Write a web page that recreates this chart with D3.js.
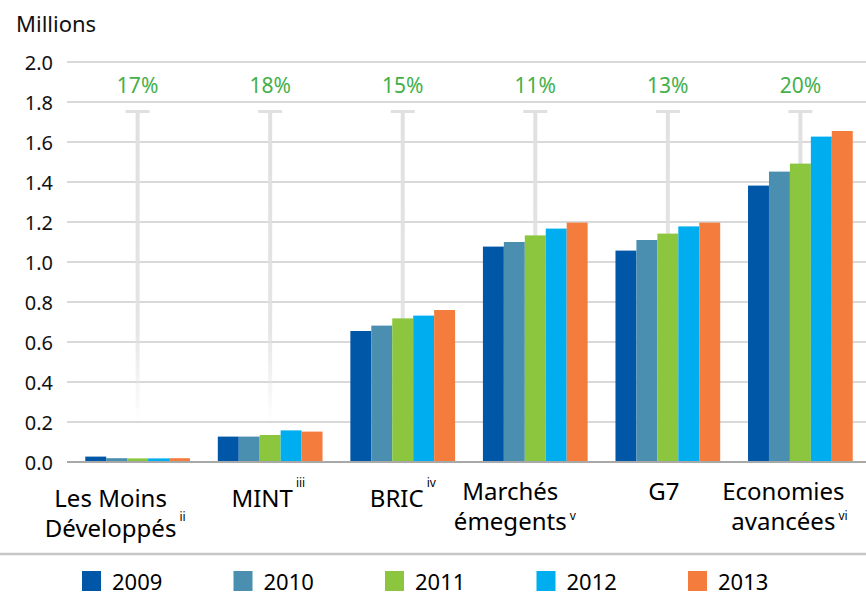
<!DOCTYPE html>
<html>
<head>
<meta charset="utf-8">
<script src="https://cdn.jsdelivr.net/npm/d3@7"></script>
<style>
body { margin: 0; background: #fff; }
text { font-family: "Noto Sans", sans-serif; }
</style>
</head>
<body>
<svg id="chart"></svg>
<script>
var width = 866;
var height = 595;

// Data
var categories = ["Les Moins Développés", "MINT", "BRIC", "Marchés émegents", "G7", "Economies avancées"];
var labelLines = [["Les Moins", "Développés"], ["MINT"], ["BRIC"], ["Marchés", "émegents"], ["G7"], ["Economies", "avancées"]];
var footnotes = ["ii", "iii", "iv", "v", "", "vi"];
var growth = ["17%", "18%", "15%", "11%", "13%", "20%"];
var years = ["2009", "2010", "2011", "2012", "2013"];
var v2009 = [0.027, 0.127, 0.655, 1.077, 1.057, 1.382];
var v2010 = [0.019, 0.127, 0.682, 1.100, 1.110, 1.452];
var v2011 = [0.018, 0.135, 0.718, 1.133, 1.142, 1.492];
var v2012 = [0.018, 0.158, 0.732, 1.167, 1.178, 1.627];
var v2013 = [0.019, 0.152, 0.760, 1.197, 1.197, 1.655];
var yTicks = [0.0, 0.2, 0.4, 0.6, 0.8, 1.0, 1.2, 1.4, 1.6, 1.8, 2.0];

var series = [v2009, v2010, v2011, v2012, v2013];
var colors = ["#0057a8", "#4a8fb0", "#8cc63f", "#00aeef", "#f47c3c"];

// label nudges (layout only)
var labelDx = [-27, -8, -6, -25, -4, -17];
var labelDy = [0, 0, 0, -7, -7, -7];
var supDy = [-16, -20, -20, -10, 0, -10];

var svg = d3.select("#chart")
    .attr("width", width)
    .attr("height", height)
    .style("display", "block");

var y = d3.scaleLinear().domain([0, 2]).range([462, 62]);

var x = d3.scaleBand()
    .domain(categories)
    .range([72, 866])
    .paddingInner(0.21)
    .paddingOuter(0.1);

var xYear = d3.scaleBand()
    .domain(years)
    .range([0, x.bandwidth()]);

// Fade for the markers
var defs = svg.append("defs");
var grad = defs.append("linearGradient").attr("id", "fade")
    .attr("x1", 0).attr("y1", 0).attr("x2", 0).attr("y2", 1);
grad.append("stop").attr("offset", "0%").attr("stop-color", "#e0e0e0").attr("stop-opacity", 1);
grad.append("stop").attr("offset", "70%").attr("stop-color", "#e0e0e0").attr("stop-opacity", 0.85);
grad.append("stop").attr("offset", "100%").attr("stop-color", "#e0e0e0").attr("stop-opacity", 0);

// Title
svg.append("text").text("Millions")
    .attr("x", 16).attr("y", 32)
    .style("font-size", "22px")
    .style("fill", "#111");

// Grid
svg.append("g").selectAll("line")
    .data(yTicks.filter(function(d) { return d > 0; }))
    .enter().append("line")
    .attr("x1", 67).attr("x2", width)
    .attr("y1", function(d) { return y(d); })
    .attr("y2", function(d) { return y(d); })
    .style("stroke", "#d9d9d9")
    .style("stroke-width", 2);

svg.append("g").selectAll("text")
    .data(yTicks)
    .enter().append("text")
    .text(function(d) { return d3.format(".1f")(d); })
    .attr("x", 53)
    .attr("y", function(d) { return y(d); })
    .attr("dy", "0.42em")
    .attr("text-anchor", "end")
    .style("font-size", "20px")
    .style("fill", "#111");

// Markers behind bars
var markers = svg.append("g");
categories.forEach(function(c) {
    var cx = x(c) + x.bandwidth() / 2;
    markers.append("rect")
        .attr("x", cx - 12).attr("y", y(1.76))
        .attr("width", 24).attr("height", 3)
        .style("fill", "#e0e0e0");
    markers.append("rect")
        .attr("x", cx - 2).attr("y", y(1.76))
        .attr("width", 4).attr("height", y(0.2) - y(1.76))
        .style("fill", "url(#fade)");
});

// Growth labels
svg.append("g").selectAll("text")
    .data(growth)
    .enter().append("text")
    .text(function(d) { return d; })
    .attr("x", function(d, i) { return x(categories[i]) + x.bandwidth() / 2; })
    .attr("y", 93)
    .attr("text-anchor", "middle")
    .style("font-size", "21px")
    .style("fill", "#43b04a");

// Bars
var groups = svg.append("g").selectAll("g")
    .data(categories)
    .enter().append("g")
    .attr("transform", function(d) { return "translate(" + x(d) + ",0)"; });

groups.selectAll("rect")
    .data(function(d, i) {
        return years.map(function(yr, j) { return { year: yr, value: series[j][i], color: colors[j] }; });
    })
    .enter().append("rect")
    .attr("x", function(d) { return xYear(d.year); })
    .attr("y", function(d) { return y(d.value); })
    .attr("width", xYear.bandwidth())
    .attr("height", function(d) { return y(0) - y(d.value); })
    .style("fill", function(d) { return d.color; });

// Baseline
svg.append("line")
    .attr("x1", 67).attr("x2", width)
    .attr("y1", y(0)).attr("y2", y(0))
    .style("stroke", "#a8a8a8")
    .style("stroke-width", 2);

// Category labels
var labels = svg.append("g");
categories.forEach(function(c, i) {
    var cx = x(c) + x.bandwidth() / 2 + labelDx[i];
    var base = 507 + labelDy[i];
    var last;
    labelLines[i].forEach(function(line, k) {
        last = labels.append("text").text(line)
            .attr("x", cx)
            .attr("y", base + k * 30)
            .attr("text-anchor", "middle")
            .style("font-size", "24px")
            .style("fill", "#000");
    });
    if (footnotes[i]) {
        var w = last.node().getComputedTextLength();
        labels.append("text").text(footnotes[i])
            .attr("x", cx + w / 2 + 3)
            .attr("y", base + (labelLines[i].length - 1) * 30 + supDy[i])
            .style("font-size", "12px")
            .style("fill", "#000");
    }
});

// Separator
svg.append("line")
    .attr("x1", 0).attr("x2", width)
    .attr("y1", 554).attr("y2", 554)
    .style("stroke", "#c6c6c6")
    .style("stroke-width", 2.5);

// Legend
var legX = d3.scaleBand().domain(years).range([82, 82 + 5 * 151.5]);
var legend = svg.append("g").selectAll("g")
    .data(years)
    .enter().append("g")
    .attr("transform", function(d) { return "translate(" + legX(d) + ",571)"; });

legend.append("rect")
    .attr("width", 19).attr("height", 20)
    .style("fill", function(d, i) { return colors[i]; });

legend.append("text")
    .text(function(d) { return d; })
    .attr("x", 30).attr("y", 19)
    .style("font-size", "22px")
    .style("fill", "#000");
</script>
</body>
</html>
